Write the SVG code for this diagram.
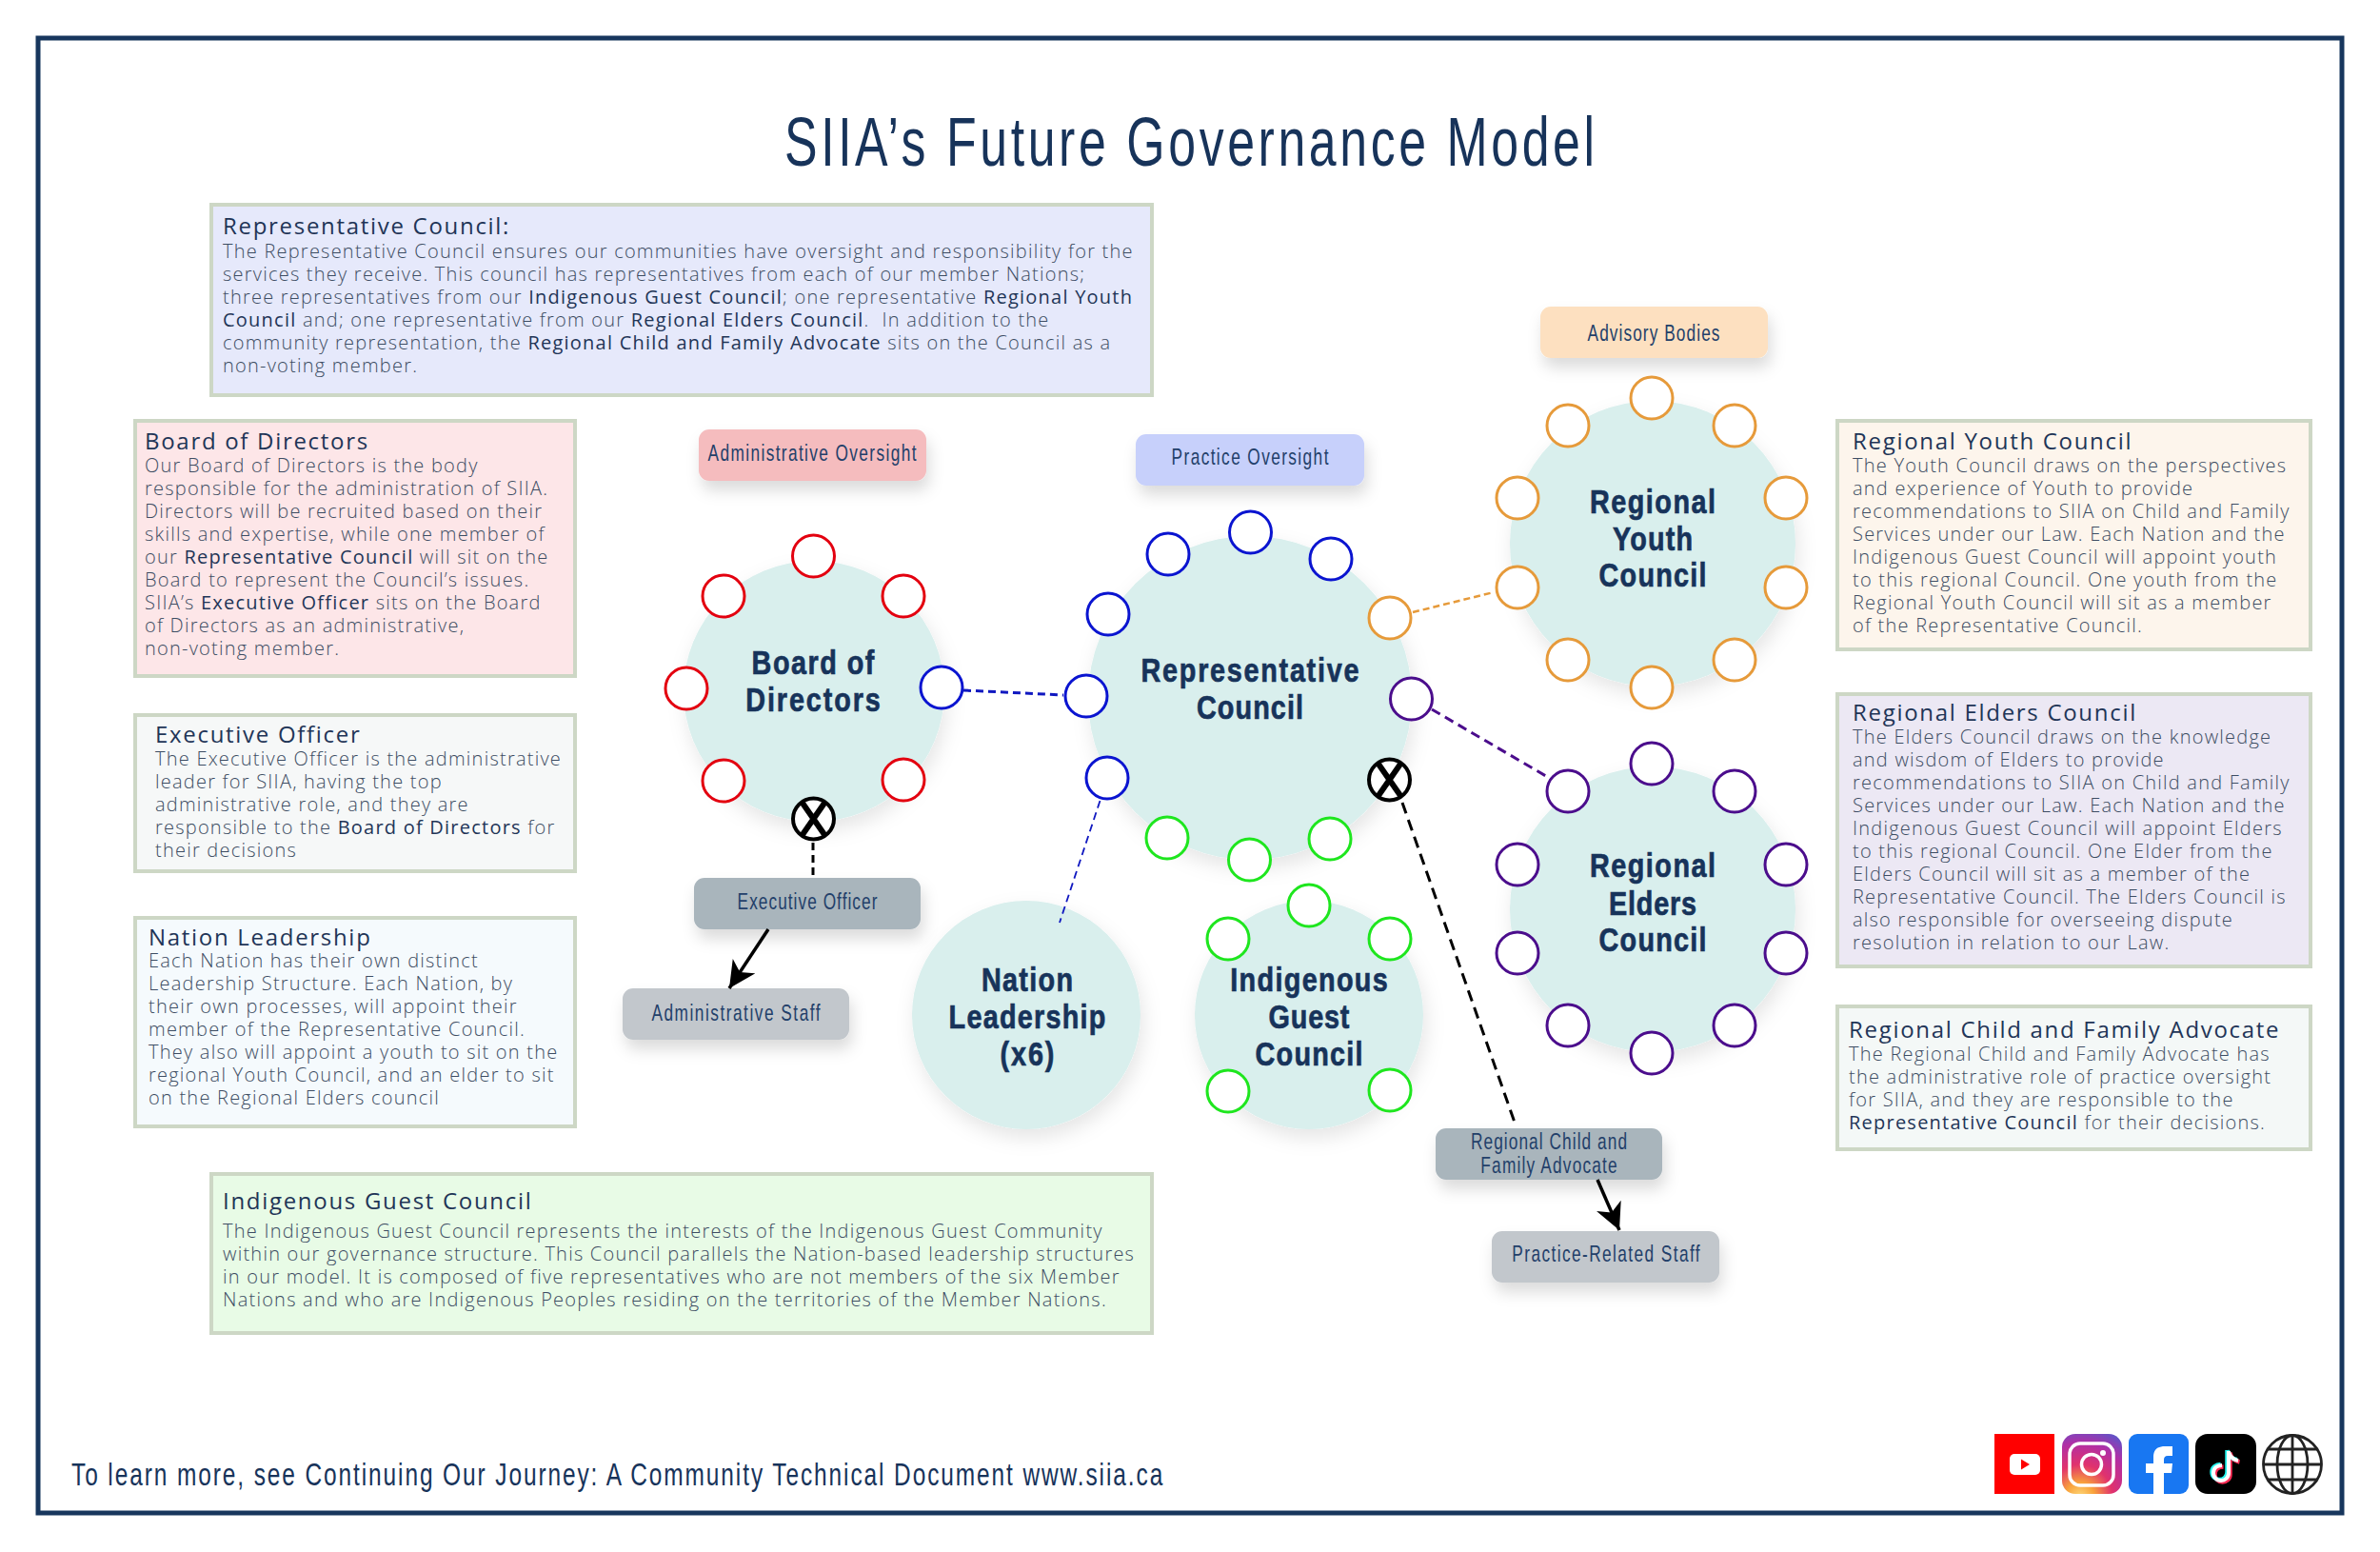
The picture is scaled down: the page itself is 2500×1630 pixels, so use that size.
<svg xmlns="http://www.w3.org/2000/svg" width="2500" height="1630" viewBox="0 0 2500 1630">
<defs>
<style>
.box{stroke:#cdd7c5;stroke-width:4}
.h{font:400 24px "Open Sans",sans-serif;letter-spacing:1.7px;fill:#1f3557}
.t{font:300 20px "Open Sans",sans-serif;letter-spacing:1.23px;fill:#3d4d63}
.t tspan{font-weight:400;fill:#1f3557}
.big{fill:#d9efed;filter:url(#sh2)}
.n{font:700 36px "Liberation Sans",sans-serif;fill:#17335a;stroke:#17335a;stroke-width:.7;text-anchor:middle}
.p{font:400 24px "Liberation Sans",sans-serif;fill:#23406a;text-anchor:middle}
.pill{filter:url(#sh)}
.s{fill:#fff;stroke-width:3}
.r{stroke:#e3000f}.u{stroke:#0a14d0}.o{stroke:#e69a3a}.v{stroke:#4b0d8c}.g{stroke:#1ee61e}.k{stroke:#000;stroke-width:4}
</style>
<filter id="sh" x="-30%" y="-30%" width="160%" height="180%"><feDropShadow dx="3" dy="10" stdDeviation="8" flood-color="#000" flood-opacity=".14"/></filter>
<filter id="sh2" x="-30%" y="-30%" width="160%" height="170%"><feDropShadow dx="3" dy="9" stdDeviation="10" flood-color="#000" flood-opacity=".1"/></filter>
<marker id="ah" markerWidth="9" markerHeight="9" refX="8" refY="4" orient="auto" markerUnits="strokeWidth"><path d="M0 0L8 4L0 8L2.2 4z" fill="#000"/></marker>
<radialGradient id="ig" cx=".3" cy="1.05" r="1.2"><stop offset="0" stop-color="#fdd97a"/><stop offset=".2" stop-color="#f9a23b"/><stop offset=".45" stop-color="#e1326c"/><stop offset=".75" stop-color="#b02fa6"/><stop offset="1" stop-color="#5a55c9"/></radialGradient>
</defs>
<rect width="2500" height="1630" fill="#fff"/>
<rect x="40" y="40" width="2420" height="1549" fill="#fff" stroke="#17365d" stroke-width="5"/>
<text transform="translate(824 174) scale(.72 1)" textLength="1182" style="font:400 72px 'Liberation Sans',sans-serif;fill:#17335a">SIIA’s Future Governance Model</text>

<g id="info-representative"><rect class="box" x="222" y="215" width="988" height="200" fill="#e6e9fb"/>
<text class="h" x="234" y="246">Representative Council:</text>
<text class="t" x="234" y="271">The Representative Council ensures our communities have oversight and responsibility for the</text>
<text class="t" x="234" y="295">services they receive. This council has representatives from each of our member Nations;</text>
<text class="t" x="234" y="319">three representatives from our <tspan>Indigenous Guest Council</tspan>; one representative <tspan>Regional Youth</tspan></text>
<text class="t" x="234" y="343" xml:space="preserve"><tspan>Council</tspan> and; one representative from our <tspan>Regional Elders Council</tspan>.  In addition to the</text>
<text class="t" x="234" y="367">community representation, the <tspan>Regional Child and Family Advocate</tspan> sits on the Council as a</text>
<text class="t" x="234" y="391">non-voting member.</text></g>

<g id="info-board"><rect class="box" x="142" y="442" width="462" height="268" fill="#fde6e8"/>
<text class="h" x="152" y="472">Board of Directors</text>
<text class="t" x="152" y="496">Our Board of Directors is the body</text>
<text class="t" x="152" y="520">responsible for the administration of SIIA.</text>
<text class="t" x="152" y="544">Directors will be recruited based on their</text>
<text class="t" x="152" y="568">skills and expertise, while one member of</text>
<text class="t" x="152" y="592">our <tspan>Representative Council</tspan> will sit on the</text>
<text class="t" x="152" y="616">Board to represent the Council’s issues.</text>
<text class="t" x="152" y="640">SIIA’s <tspan>Executive Officer</tspan> sits on the Board</text>
<text class="t" x="152" y="664">of Directors as an administrative,</text>
<text class="t" x="152" y="688">non-voting member.</text></g>

<g id="info-executive"><rect class="box" x="142" y="751" width="462" height="164" fill="#f6f8f8"/>
<text class="h" x="163" y="780">Executive Officer</text>
<text class="t" x="163" y="804">The Executive Officer is the administrative</text>
<text class="t" x="163" y="828">leader for SIIA, having the top</text>
<text class="t" x="163" y="852">administrative role, and they are</text>
<text class="t" x="163" y="876">responsible to the <tspan>Board of Directors</tspan> for</text>
<text class="t" x="163" y="900">their decisions</text></g>

<g id="info-nation"><rect class="box" x="142" y="964" width="462" height="219" fill="#f5fafd"/>
<text class="h" x="156" y="993">Nation Leadership</text>
<text class="t" x="156" y="1016">Each Nation has their own distinct</text>
<text class="t" x="156" y="1040">Leadership Structure. Each Nation, by</text>
<text class="t" x="156" y="1064">their own processes, will appoint their</text>
<text class="t" x="156" y="1088">member of the Representative Council.</text>
<text class="t" x="156" y="1112">They also will appoint a youth to sit on the</text>
<text class="t" x="156" y="1136">regional Youth Council, and an elder to sit</text>
<text class="t" x="156" y="1160">on the Regional Elders council</text></g>

<g id="info-guest"><rect class="box" x="222" y="1233" width="988" height="167" fill="#e8fbe6"/>
<text class="h" x="234" y="1270">Indigenous Guest Council</text>
<text class="t" x="234" y="1300">The Indigenous Guest Council represents the interests of the Indigenous Guest Community</text>
<text class="t" x="234" y="1324">within our governance structure. This Council parallels the Nation-based leadership structures</text>
<text class="t" x="234" y="1348">in our model. It is composed of five representatives who are not members of the six Member</text>
<text class="t" x="234" y="1372">Nations and who are Indigenous Peoples residing on the territories of the Member Nations.</text></g>

<g id="info-youth"><rect class="box" x="1930" y="442" width="497" height="240" fill="#fdf5ec"/>
<text class="h" x="1946" y="472">Regional Youth Council</text>
<text class="t" x="1946" y="496">The Youth Council draws on the perspectives</text>
<text class="t" x="1946" y="520">and experience of Youth to provide</text>
<text class="t" x="1946" y="544">recommendations to SIIA on Child and Family</text>
<text class="t" x="1946" y="568">Services under our Law. Each Nation and the</text>
<text class="t" x="1946" y="592">Indigenous Guest Council will appoint youth</text>
<text class="t" x="1946" y="616">to this regional Council. One youth from the</text>
<text class="t" x="1946" y="640">Regional Youth Council will sit as a member</text>
<text class="t" x="1946" y="664">of the Representative Council.</text></g>

<g id="info-elders"><rect class="box" x="1930" y="729" width="497" height="286" fill="#ece8f4"/>
<text class="h" x="1946" y="757">Regional Elders Council</text>
<text class="t" x="1946" y="781">The Elders Council draws on the knowledge</text>
<text class="t" x="1946" y="805">and wisdom of Elders to provide</text>
<text class="t" x="1946" y="829">recommendations to SIIA on Child and Family</text>
<text class="t" x="1946" y="853">Services under our Law. Each Nation and the</text>
<text class="t" x="1946" y="877">Indigenous Guest Council will appoint Elders</text>
<text class="t" x="1946" y="901">to this regional Council. One Elder from the</text>
<text class="t" x="1946" y="925">Elders Council will sit as a member of the</text>
<text class="t" x="1946" y="949">Representative Council. The Elders Council is</text>
<text class="t" x="1946" y="973">also responsible for overseeing dispute</text>
<text class="t" x="1946" y="997">resolution in relation to our Law.</text></g>

<g id="info-advocate"><rect class="box" x="1930" y="1057" width="497" height="150" fill="#f4f8f7"/>
<text class="h" x="1942" y="1090">Regional Child and Family Advocate</text>
<text class="t" x="1942" y="1114">The Regional Child and Family Advocate has</text>
<text class="t" x="1942" y="1138">the administrative role of practice oversight</text>
<text class="t" x="1942" y="1162">for SIIA, and they are responsible to the</text>
<text class="t" x="1942" y="1186"><tspan>Representative Council</tspan> for their decisions.</text></g>

<g id="pill-admin-oversight"><rect class="pill" x="734" y="451" width="239" height="54" rx="11" fill="#f5bcbe"/><text class="p" transform="translate(853 484) scale(.72 1)" textLength="304">Administrative Oversight</text></g>
<g id="pill-practice-oversight"><rect class="pill" x="1193" y="456" width="240" height="54" rx="11" fill="#c7d0fb"/><text class="p" transform="translate(1313 488) scale(.72 1)" textLength="229">Practice Oversight</text></g>
<g id="pill-advisory"><rect class="pill" x="1618" y="322" width="239" height="54" rx="11" fill="#fde0c0"/><text class="p" transform="translate(1737 358) scale(.72 1)" textLength="193">Advisory Bodies</text></g>

<g id="node-nation"><circle class="big" cx="1078" cy="1066" r="120"/><text class="n" transform="translate(1079 1041) scale(.8 1)" textLength="120">Nation</text><text class="n" transform="translate(1079 1080) scale(.8 1)" textLength="206">Leadership</text><text class="n" transform="translate(1079 1119) scale(.8 1)" textLength="71">(x6)</text></g>

<g id="node-guest"><circle class="big" cx="1375" cy="1066" r="120"/><text class="n" transform="translate(1375 1041) scale(.8 1)" textLength="207">Indigenous</text><text class="n" transform="translate(1375 1080) scale(.8 1)" textLength="106">Guest</text><text class="n" transform="translate(1375 1119) scale(.8 1)" textLength="141">Council</text>
<g class="g"><circle class="s" cx="1375" cy="951" r="22"/><circle class="s" cx="1290" cy="986" r="22"/><circle class="s" cx="1460" cy="986" r="22"/><circle class="s" cx="1290" cy="1146" r="22"/><circle class="s" cx="1460" cy="1145" r="22"/></g></g>

<g id="node-board"><circle class="big" cx="855" cy="726" r="137"/><text class="n" transform="translate(854 708) scale(.8 1)" textLength="161">Board of</text><text class="n" transform="translate(854 747) scale(.8 1)" textLength="177">Directors</text>
<g class="r"><circle class="s" cx="854.500" cy="584" r="22"/><circle class="s" cx="760" cy="626" r="22"/><circle class="s" cx="949" cy="626" r="22"/><circle class="s" cx="721" cy="723" r="22"/><circle class="s" cx="760" cy="820" r="22"/><circle class="s" cx="949" cy="819" r="22"/></g>
<circle class="s u" cx="989" cy="722" r="22"/>
<g><circle class="s k" cx="854.500" cy="860" r="21.500"/><path d="M842 842L867 878M867 842L842 878" stroke="#000" stroke-width="6"/></g></g>

<g id="node-representative"><circle class="big" cx="1313" cy="733" r="170"/><text class="n" transform="translate(1313 716) scale(.8 1)" textLength="286">Representative</text><text class="n" transform="translate(1313 755) scale(.8 1)" textLength="140">Council</text>
<g class="u"><circle class="s" cx="1313.500" cy="559" r="22"/><circle class="s" cx="1227" cy="582" r="22"/><circle class="s" cx="1398" cy="587" r="22"/><circle class="s" cx="1164" cy="645" r="22"/><circle class="s" cx="1141" cy="731" r="22"/><circle class="s" cx="1163" cy="817" r="22"/></g>
<circle class="s o" cx="1460" cy="649" r="22"/><circle class="s v" cx="1482.500" cy="734" r="22"/>
<g class="g"><circle class="s" cx="1226" cy="880" r="22"/><circle class="s" cx="1397" cy="881" r="22"/><circle class="s" cx="1312.500" cy="903" r="22"/></g>
<g><circle class="s k" cx="1459.500" cy="819" r="21.500"/><path d="M1447 801L1472 837M1472 801L1447 837" stroke="#000" stroke-width="6"/></g></g>

<g id="node-youth"><circle class="big" cx="1736" cy="571" r="150"/><text class="n" transform="translate(1736 539) scale(.8 1)" textLength="165">Regional</text><text class="n" transform="translate(1736 578) scale(.8 1)" textLength="105">Youth</text><text class="n" transform="translate(1736 616) scale(.8 1)" textLength="141">Council</text>
<g class="o"><circle class="s" cx="1735" cy="418" r="22"/><circle class="s" cx="1647" cy="447" r="22"/><circle class="s" cx="1822" cy="447" r="22"/><circle class="s" cx="1594" cy="523" r="22"/><circle class="s" cx="1876" cy="523" r="22"/><circle class="s" cx="1594" cy="617" r="22"/><circle class="s" cx="1876" cy="617" r="22"/><circle class="s" cx="1647" cy="693" r="22"/><circle class="s" cx="1822" cy="693" r="22"/><circle class="s" cx="1735" cy="722" r="22"/></g></g>

<g id="node-elders"><circle class="big" cx="1736" cy="955" r="150"/><text class="n" transform="translate(1736 921) scale(.8 1)" textLength="165">Regional</text><text class="n" transform="translate(1736 961) scale(.8 1)" textLength="115">Elders</text><text class="n" transform="translate(1736 999) scale(.8 1)" textLength="141">Council</text>
<g class="v"><circle class="s" cx="1735" cy="802" r="22"/><circle class="s" cx="1647" cy="831" r="22"/><circle class="s" cx="1822" cy="831" r="22"/><circle class="s" cx="1594" cy="908" r="22"/><circle class="s" cx="1876" cy="908" r="22"/><circle class="s" cx="1594" cy="1001" r="22"/><circle class="s" cx="1876" cy="1001" r="22"/><circle class="s" cx="1647" cy="1077" r="22"/><circle class="s" cx="1822" cy="1077" r="22"/><circle class="s" cx="1735" cy="1106" r="22"/></g></g>

<g id="pill-executive"><rect class="pill" x="729" y="922" width="238" height="54" rx="11" fill="#a9b5bc"/><text class="p" transform="translate(848 955) scale(.72 1)" textLength="204">Executive Officer</text></g>
<g id="pill-admin-staff"><rect class="pill" x="654" y="1038" width="238" height="54" rx="11" fill="#c2c7cc"/><text class="p" transform="translate(773 1072) scale(.72 1)" textLength="246">Administrative Staff</text></g>
<g id="pill-advocate"><rect class="pill" x="1508" y="1185" width="238" height="54" rx="11" fill="#a9b5bc"/><text class="p" transform="translate(1627 1207) scale(.72 1)" textLength="228">Regional Child and</text><text class="p" transform="translate(1627 1232) scale(.72 1)" textLength="199">Family Advocate</text></g>
<g id="pill-practice-staff"><rect class="pill" x="1567" y="1293" width="239" height="54" rx="11" fill="#c2c7cc"/><text class="p" transform="translate(1687 1325) scale(.72 1)" textLength="274">Practice-Related Staff</text></g>

<g id="connectors" fill="none">
<path d="M1012 725L1117 730" stroke="#1018c0" stroke-width="3" stroke-dasharray="8 5"/>
<path d="M1484 643L1569 622" stroke="#e69a3a" stroke-width="2.500" stroke-dasharray="7 4"/>
<path d="M1504 745L1629 818" stroke="#4b0d8c" stroke-width="3" stroke-dasharray="10 6"/>
<path d="M1155.500 841L1113 969" stroke="#1018c0" stroke-width="1.800" stroke-dasharray="8 5"/>
<path d="M854 885L854 923" stroke="#000" stroke-width="3" stroke-dasharray="8 5"/>
<path d="M1473 843L1592.500 1183" stroke="#000" stroke-width="3" stroke-dasharray="12 7"/>
<path d="M807 976L766 1038" stroke="#000" stroke-width="3.500" marker-end="url(#ah)"/>
<path d="M1678 1239L1701 1292" stroke="#000" stroke-width="3.500" marker-end="url(#ah)"/>
</g>

<text transform="translate(75 1560) scale(.72 1)" textLength="1592" style="font:400 34px 'Liberation Sans',sans-serif;fill:#17335a">To learn more, see Continuing Our Journey: A Community Technical Document www.siia.ca</text>

<g id="icons">
<g id="icon-youtube"><rect x="2095" y="1506" width="63" height="63" fill="#f00"/><rect x="2111" y="1527" width="32" height="22" rx="5" fill="#fff"/><path d="M2123 1532.500L2132 1538L2123 1543.500z" fill="#f00"/></g>
<g id="icon-instagram"><rect x="2166" y="1506" width="63" height="63" rx="14" fill="url(#ig)"/><rect x="2174" y="1516" width="46" height="44" rx="11" fill="none" stroke="#fff" stroke-width="3.500"/><circle cx="2197" cy="1538" r="10.500" fill="none" stroke="#fff" stroke-width="3.500"/><circle cx="2209" cy="1526" r="3" fill="#fff"/></g>
<g id="icon-facebook"><rect x="2236" y="1506" width="63" height="63" rx="9" fill="#1877f2"/><path d="M2262 1569V1547H2254V1537H2262V1530C2262 1522 2267 1519 2274 1519H2282V1529H2277C2274 1529 2273 1531 2273 1533V1537H2282L2281 1547H2273V1569z" fill="#fff"/></g>
<g id="icon-tiktok"><rect x="2306" y="1506" width="64" height="63" rx="13" fill="#000"/><path d="M2341 1524V1547C2341 1552 2337 1555 2333 1555C2329 1555 2325 1552 2325 1547C2325 1542 2329 1539 2334 1539M2341 1524C2342 1530 2346 1533 2351 1534" fill="none" stroke="#fe2c55" stroke-width="4.500" transform="translate(1.500 1.500)"/><path d="M2341 1524V1547C2341 1552 2337 1555 2333 1555C2329 1555 2325 1552 2325 1547C2325 1542 2329 1539 2334 1539M2341 1524C2342 1530 2346 1533 2351 1534" fill="none" stroke="#25f4ee" stroke-width="4.500" transform="translate(-1.500 -1)"/><path d="M2341 1524V1547C2341 1552 2337 1555 2333 1555C2329 1555 2325 1552 2325 1547C2325 1542 2329 1539 2334 1539M2341 1524C2342 1530 2346 1533 2351 1534" fill="none" stroke="#fff" stroke-width="4"/></g>
<g id="icon-globe" fill="none" stroke="#222" stroke-width="2.800"><circle cx="2408" cy="1538" r="30.500"/><ellipse cx="2408" cy="1538" rx="16" ry="30.500"/><path d="M2408 1507.500V1568.500M2377.500 1538H2438.500M2382 1522H2434M2382 1554H2434"/></g>
</g>
</svg>
